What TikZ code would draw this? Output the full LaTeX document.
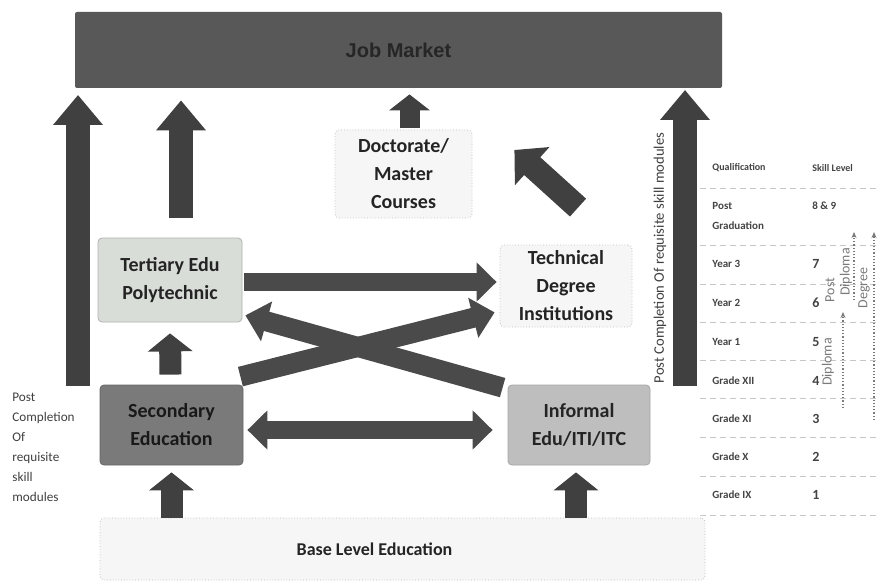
\documentclass[tikz,border=0pt]{standalone}
\usepackage{fontspec}
\setmainfont{Carlito}
\newfontfamily\arialfont{Liberation Sans}
\usetikzlibrary{arrows.meta}
\definecolor{arrowc}{HTML}{404040}
\definecolor{harrowc}{HTML}{4A4A4A}
\definecolor{jobc}{HTML}{585858}
\definecolor{txtc}{HTML}{242424}
\definecolor{tertc}{HTML}{D9DDD8}
\definecolor{secc}{HTML}{7A7A7A}
\definecolor{infc}{HTML}{BEBEBE}
\definecolor{lightc}{HTML}{F6F6F6}
\definecolor{tabc}{HTML}{444444}
\definecolor{annc}{HTML}{7A7A7A}
\tikzset{
  box/.style={rounded corners=2pt, align=center, font=\bfseries\fontsize{10}{14}\selectfont, text=txtc, inner sep=0pt},
  bigarrow/.style={draw=arrowc, line width=12pt, -{Triangle[width=24pt,length=15pt]}},
  smallup/.style={draw=arrowc, line width=11pt, -{Triangle[width=22pt,length=9pt]}},
  docarrow/.style={draw=arrowc, line width=10pt, -{Triangle[width=20pt,length=8pt]}},
  harrow/.style={draw=harrowc, line width=9pt, -{Triangle[width=19pt,length=10pt]}},
  dblarrow/.style={draw=harrowc, line width=9pt, {Triangle[width=19pt,length=10pt]}-{Triangle[width=19pt,length=10pt]}},
  diagarrow/.style={draw=harrowc, line width=10pt, -{Triangle[width=20pt,length=11pt]}},
  techarrow/.style={draw=arrowc, line width=12pt, -{Triangle[width=25pt,length=12pt]}},
  tabtxt/.style={font=\bfseries\fontsize{5.5}{8}\selectfont, text=tabc, anchor=west, inner sep=0pt},
  numtxt/.style={tabtxt, font=\bfseries\fontsize{7}{8}\selectfont},
  rowline/.style={draw=gray!45, densely dashed, line width=0.4pt},
  anntxt/.style={font=\fontsize{7}{8}\selectfont, text=annc, rotate=90, inner sep=0pt},
  annline/.style={draw=annc, densely dotted, line width=0.6pt, -{Stealth[length=3pt,width=2.5pt]}}
}
\begin{document}
\begin{tikzpicture}[x=0.5pt,y=-0.5pt]
\useasboundingbox (0,0) rectangle (877,588);
\fill[white] (0,0) rectangle (877,588);

% main nodes
\node[box, fill=jobc, minimum width=323.5pt, minimum height=38pt, rounded corners=1pt, font=\arialfont\bfseries\fontsize{10}{12}\selectfont, text=black!85] (job) at (398.5,50) {Job Market};
\node[box, fill=lightc, draw=gray!50, densely dotted, minimum width=68.5pt, minimum height=44pt] (doc) at (403.5,174) {Doctorate/\\Master\\Courses};
\node[box, fill=tertc, draw=gray!60, minimum width=72pt, minimum height=42pt] (tert) at (170,280) {Tertiary Edu\\Polytechnic};
\node[box, fill=lightc, draw=gray!50, densely dotted, minimum width=66pt, minimum height=41pt] (tech) at (566,286) {Technical\\Degree\\Institutions};
\node[box, fill=secc, draw=gray!80!black, minimum width=71.5pt, minimum height=40pt, text=black!90] (sec) at (171.5,425) {Secondary\\Education};
\node[box, fill=infc, draw=gray!70, minimum width=71pt, minimum height=40pt] (inf) at (579,425) {Informal\\Edu/ITI/ITC};
\node[box, fill=lightc, draw=gray!50, densely dotted, minimum width=302.5pt, minimum height=31pt, font=\bfseries\fontsize{9}{11}\selectfont] (base) at (402.5,549) {Base Level Education\hspace*{28pt}};

% side texts
\node[font=\fontsize{6.6}{10}\selectfont, text=black!75, align=left, anchor=north west, inner sep=0pt] (lefttxt) at (12,393) {Post\\Completion\\Of\\requisite\\skill\\modules};
\node[font=\fontsize{7.3}{8}\selectfont, text=black!75, rotate=90, inner sep=0pt] (righttxt) at (660,258) {Post Completion Of requisite skill modules};

% free arrow ends
\coordinate (lb) at (78,386);
\coordinate (lt) at (78,95);
\coordinate (rb) at (685,386);
\coordinate (rt) at (685,90);

% arrows
\draw[bigarrow] (lb) -- (lt);
\draw[bigarrow] (rb) -- (rt);
\draw[bigarrow] ([shift={(11,-20)}]tert.north) -- ([shift={(11,12)}]tert.north |- job.south);
\draw[docarrow] ([shift={(6,-2)}]doc.north) -- ([shift={(6,6)}]doc.north |- job.south);
\draw[techarrow] ([shift={(12,-37)}]tech.north) -- ([shift={(42,-24)}]doc.east);
\draw[harrow] ([shift={(2,2)}]tert.east) -- ([shift={(-3,-4)}]tech.west);
\draw[diagarrow] ([shift={(-5,3)}]inf.north west) -- ([shift={(3,-7)}]tert.south east);
\draw[diagarrow] ([shift={(-3,-8)}]sec.north east) -- ([shift={(-5,-15)}]tech.south west);
\draw[smallup] ([shift={(-1,-10)}]sec.north) -- ([shift={(0,11)}]tert.south);
\draw[dblarrow] ([shift={(4,5)}]sec.east) -- ([shift={(-15,5)}]inf.west);
\draw[smallup] (sec.south |- base.north) -- ([shift={(0,7)}]sec.south);
\draw[smallup] ([xshift=-1.5pt]inf.south |- base.north) -- ([shift={(-3,7)}]inf.south);

% table
\foreach \yy in {188,245,284,322,360,398,437,476,515}{
  \draw[rowline] (700,\yy) -- (877,\yy);
}
\node[tabtxt, font=\bfseries\fontsize{5}{8}\selectfont] (h1) at (712,168) {Qualification};
\node[tabtxt, font=\bfseries\fontsize{5}{8}\selectfont] (h2) at (812,168) {Skill Level};
\node[tabtxt] (q1) at (712,206) {Post};
\node[tabtxt] (q1b) at (712,226) {Graduation};
\node[tabtxt] (q2) at (712,264) {Year 3};
\node[tabtxt] (q3) at (712,303) {Year 2};
\node[tabtxt] (q4) at (712,342) {Year 1};
\node[tabtxt] (q5) at (712,381) {Grade XII};
\node[tabtxt] (q6) at (712,419) {Grade XI};
\node[tabtxt] (q7) at (712,457) {Grade X};
\node[tabtxt] (q8) at (712,495) {Grade IX};
\node[tabtxt] (s1) at (812,206) {8 \& 9};
\node[numtxt] (s2) at (812,264) {7};
\node[numtxt] (s3) at (812,303) {6};
\node[numtxt] (s4) at (812,342) {5};
\node[numtxt] (s5) at (812,381) {4};
\node[numtxt] (s6) at (812,419) {3};
\node[numtxt] (s7) at (812,457) {2};
\node[numtxt] (s8) at (812,495) {1};

% annotations
\node[anntxt] (apost) at (830,290) {Post};
\node[anntxt] (apd) at (846,272) {Diploma};
\node[anntxt] (adip) at (828,362) {Diploma};
\node[anntxt] (adeg) at (864,288) {Degree};
\coordinate (pdb) at (854,300);
\coordinate (pdt) at (854,232);
\coordinate (dpb) at (843,408);
\coordinate (dpt) at (843,312);
\coordinate (dgb) at (874,420);
\coordinate (dgt) at (874,232);
\draw[annline] (pdb) -- (pdt);
\draw[annline] (dpb) -- (dpt);
\draw[annline] (dgb) -- (dgt);
\end{tikzpicture}
\end{document}
